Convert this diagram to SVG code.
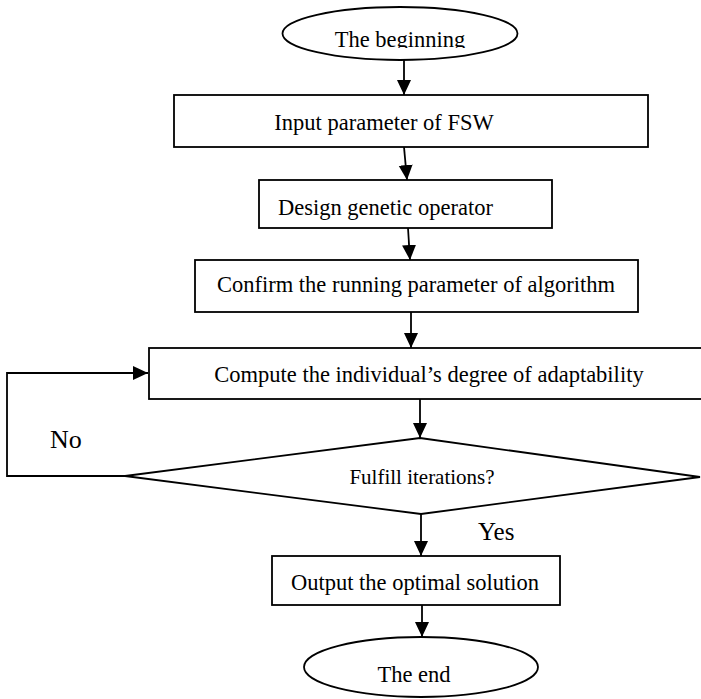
<svg xmlns="http://www.w3.org/2000/svg" width="701" height="699" viewBox="0 0 701 699">
<style>
.s{fill:#fff;stroke:#000;stroke-width:1.8}
.c{stroke:#000;stroke-width:1.8;fill:none}
</style>
<defs>
<marker id="ah" markerUnits="userSpaceOnUse" markerWidth="16" markerHeight="16" viewBox="0 0 16 16" refX="15" refY="8" orient="auto">
<path d="M0,1 L15,8 L0,15 Z" fill="#000"/>
</marker>
<clipPath id="clipb"><rect x="280" y="0" width="240" height="48"/></clipPath>
</defs>
<rect width="701" height="699" fill="#fff"/>
<g font-family="'Liberation Serif', 'Times New Roman', serif" font-size="22.5" fill="#000">
<g id="connectors">
<line class="c" x1="404" y1="60" x2="404" y2="95" marker-end="url(#ah)"/>
<line class="c" x1="404" y1="147" x2="407" y2="180" marker-end="url(#ah)"/>
<line class="c" x1="408" y1="228" x2="410" y2="260" marker-end="url(#ah)"/>
<line class="c" x1="411" y1="312" x2="411" y2="348" marker-end="url(#ah)"/>
<line class="c" x1="420" y1="399" x2="420" y2="438" marker-end="url(#ah)"/>
<line class="c" x1="421" y1="514" x2="421" y2="556" marker-end="url(#ah)"/>
<line class="c" x1="422" y1="605" x2="422" y2="637" marker-end="url(#ah)"/>
<polyline class="c" points="125,476 7,476 7,373 148,373" marker-end="url(#ah)"/>
<text x="50" y="448" font-size="26">No</text>
<text x="478" y="540" font-size="25">Yes</text>
</g>
<g id="start">
<ellipse class="s" cx="400" cy="33.5" rx="117.5" ry="26.5"/>
<text x="400" y="47" text-anchor="middle" clip-path="url(#clipb)">The beginning</text>
</g>
<g id="input">
<rect class="s" x="174" y="95" width="474" height="52"/>
<text x="384" y="130" text-anchor="middle">Input parameter of FSW</text>
</g>
<g id="design">
<rect class="s" x="259" y="180" width="293" height="48"/>
<text x="278" y="215">Design genetic operator</text>
</g>
<g id="confirm">
<rect class="s" x="195" y="260" width="443" height="52"/>
<text x="217" y="292">Confirm the running parameter of algorithm</text>
</g>
<g id="compute">
<rect class="s" x="149" y="348" width="560" height="51"/>
<text x="429" y="382" text-anchor="middle">Compute the individual’s degree of adaptability</text>
</g>
<g id="decision">
<polygon class="s" points="420,438 700,477 421,514 125,476"/>
<text x="422" y="484" text-anchor="middle" font-size="21">Fulfill iterations?</text>
</g>
<g id="output">
<rect class="s" x="272" y="556" width="288" height="49"/>
<text x="415" y="590" text-anchor="middle">Output the optimal solution</text>
</g>
<g id="end">
<ellipse class="s" cx="421" cy="667" rx="117" ry="30"/>
<text x="414" y="682" text-anchor="middle">The end</text>
</g>
</g>
</svg>
